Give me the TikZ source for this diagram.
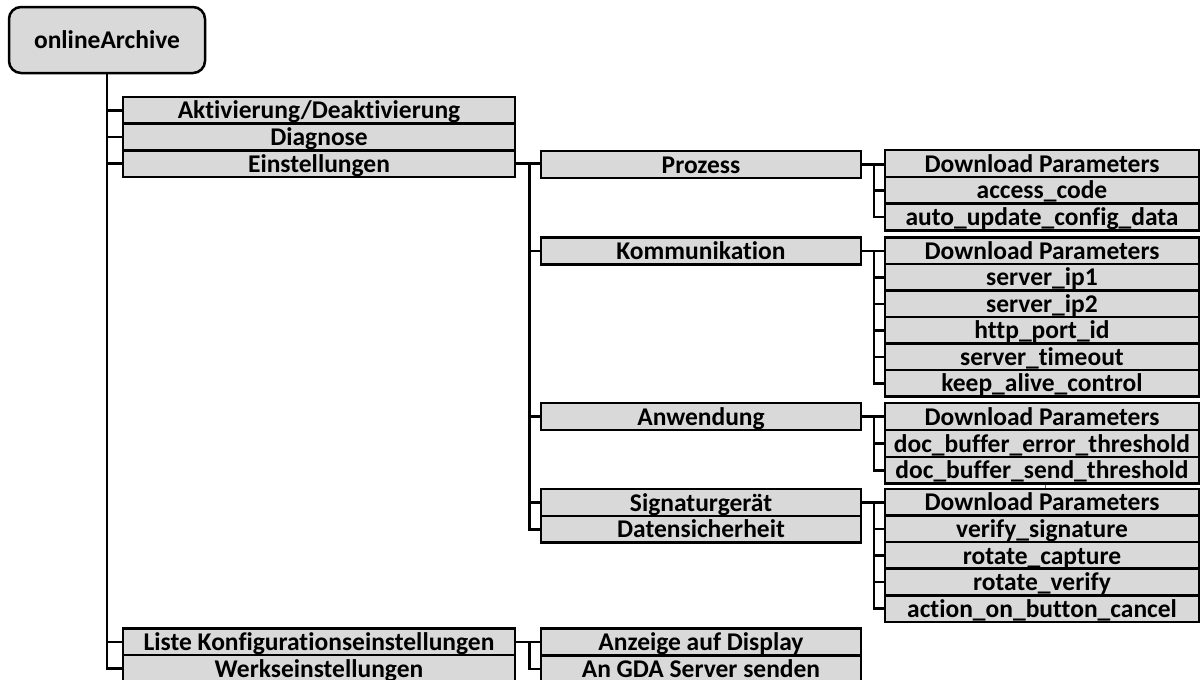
\documentclass[tikz,border=0pt]{standalone}
\usepackage{fontspec}
\setmainfont{Carlito}[RawFeature={-liga;-clig;-calt;-dlig}]
\begin{document}
\begin{tikzpicture}[x=1pt,y=-1pt,
  every node/.style={font=\fontsize{25.5}{27}\selectfont\bfseries, inner sep=0pt,
    text height=22pt, text depth=4.8pt},
  conn/.style={line width=2.5pt, line join=miter, line cap=rect},
  boxbase/.style={draw, line width=2.5pt, fill=boxgray, minimum height=26.8pt, align=center},
  lvlone/.style={boxbase, minimum width=392pt},
  lvltwo/.style={boxbase, minimum width=320pt},
  lvlthree/.style={boxbase, minimum width=314pt},
  rootbox/.style={draw, line width=2.5pt, fill=boxgray, rounded corners=12pt,
    minimum width=196pt, minimum height=66pt}
]
\definecolor{boxgray}{HTML}{D9D9D9}
\useasboundingbox (0,0) rectangle (1203,680);

% root
\node[rootbox] (root) at (107,40) {onlineArchive};

% level 1
\node[lvlone] (akt)   at (319,110.3) {Aktivierung/Deaktivierung};
\node[lvlone] (diag)  at (319,137)   {Diagnose};
\node[lvlone] (ein)   at (319,163.7) {Einstellungen};
\node[lvlone] (liste) at (319,641.8) {Liste Konfigurationseinstellungen};
\node[lvlone] (werk)  at (319,668.6) {Werkseinstellungen};

% level 2
\node[lvltwo] (proz)  at (701,164.5) {Prozess};
\node[lvltwo] (komm)  at (701,251)   {Kommunikation};
\node[lvltwo] (anw)   at (701,416.5) {Anwendung};
\node[lvltwo] (sig)   at (701,502.5) {Signaturgerät};
\node[lvltwo] (daten) at (701,529.3) {Datensicherheit};
\node[lvltwo] (anz)   at (701,642)   {Anzeige auf Display};
\node[lvltwo] (gda)   at (701,668.8) {An GDA Server senden};

% level 3
\node[lvlthree] (p1) at (1042,163.5) {Download Parameters};
\node[lvlthree] (p2) at (1042,190.3) {access\_code};
\node[lvlthree] (p3) at (1042,217.1) {auto\_update\_config\_data};

\node[lvlthree] (k1) at (1042,250.8) {Download Parameters};
\node[lvlthree] (k2) at (1042,277.3) {server\_ip1};
\node[lvlthree] (k3) at (1042,303.8) {server\_ip2};
\node[lvlthree] (k4) at (1042,330.3) {http\_port\_id};
\node[lvlthree] (k5) at (1042,356.8) {server\_timeout};
\node[lvlthree] (k6) at (1042,383.3) {keep\_alive\_control};

\node[lvlthree] (a1) at (1042,416.5) {Download Parameters};
\node[lvlthree] (a2) at (1042,443.5) {doc\_buffer\_error\_threshold};
\node[lvlthree] (a3) at (1042,470.3) {doc\_buffer\_send\_threshold};

\node[lvlthree] (s1) at (1042,502.3) {Download Parameters};
\node[lvlthree] (s2) at (1042,528.9) {verify\_signature};
\node[lvlthree] (s3) at (1042,555.5) {rotate\_capture};
\node[lvlthree] (s4) at (1042,582.1) {rotate\_verify};
\node[lvlthree] (s5) at (1042,608.7) {action\_on\_button\_cancel};

% junction columns
\coordinate (jtwo) at (529.5,0);
\coordinate (jthree) at (874,0);
\coordinate (tick) at (1045,0);

% root to level 1
\draw[conn] (root.south) |- (werk.west);
\foreach \n in {akt,diag,ein,liste}
  \draw[conn] (root.south |- \n.west) -- (\n.west);

% Einstellungen to level 2
\draw[conn] (ein.east) -- (ein.east -| proz.west);
\draw[conn] (ein.east -| jtwo) |- (daten.west);
\foreach \n in {komm,anw,sig}
  \draw[conn] (jtwo |- \n.west) -- (\n.west);

% Liste to level 2
\draw[conn] (liste.east) -- (liste.east -| anz.west);
\draw[conn] (liste.east -| jtwo) |- (gda.west);

% Prozess
\draw[conn] (proz.east) -- (proz.east -| p1.west);
\draw[conn] (proz.east -| jthree) |- (p3.west);
\draw[conn] (jthree |- p2.west) -- (p2.west);

% Kommunikation
\draw[conn] (komm.east) -- (komm.east -| k1.west);
\draw[conn] (komm.east -| jthree) |- (k6.west);
\foreach \n in {k2,k3,k4,k5}
  \draw[conn] (jthree |- \n.west) -- (\n.west);

% Anwendung
\draw[conn] (anw.east) -- (anw.east -| a1.west);
\draw[conn] (anw.east -| jthree) |- (a3.west);
\draw[conn] (jthree |- a2.west) -- (a2.west);

% Signaturgeraet
\draw[conn] (sig.east) -- (sig.east -| s1.west);
\draw[conn] (sig.east -| jthree) |- (s5.west);
\foreach \n in {s2,s3,s4}
  \draw[conn] (jthree |- \n.west) -- (\n.west);

% small tick between groups
\draw[line width=0.8pt, black!60] (a3.south -| tick) -- (s1.north -| tick);
\end{tikzpicture}
\end{document}
